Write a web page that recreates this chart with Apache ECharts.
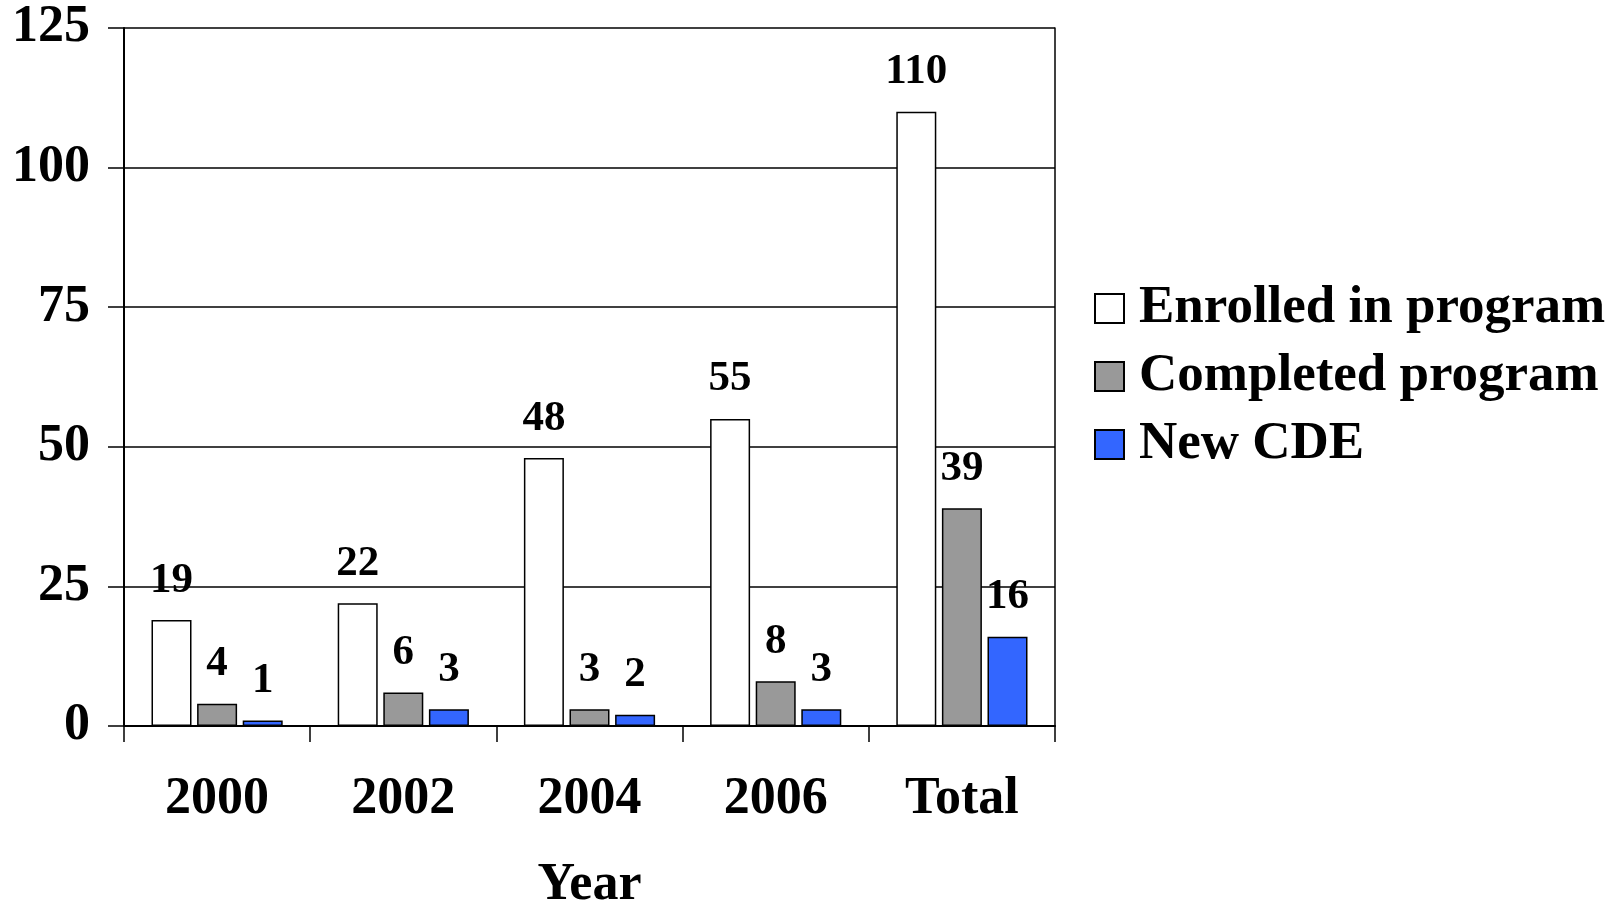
<!DOCTYPE html>
<html>
<head>
<meta charset="utf-8">
<script src="https://cdn.jsdelivr.net/npm/echarts@6/dist/echarts.min.js"></script>
<style>html,body{margin:0;padding:0;background:#fff}#c{width:1621px;height:917px}</style>
</head>
<body>
<div id="c"></div>
<script>
var categories = ['2000', '2002', '2004', '2006', 'Total'];
var enrolled = [19, 22, 48, 55, 110];
var completed = [4, 6, 3, 8, 39];
var newCDE = [1, 3, 2, 3, 16];
var seriesNames = ['Enrolled in program', 'Completed program', 'New CDE'];
var yTicks = [0, 25, 50, 75, 100, 125];

var FONT = '"Liberation Serif", "Times New Roman", serif';
var chart = echarts.init(document.getElementById('c'));

function bar(name, data, color) {
  return {
    name: name, type: 'bar', data: data,
    barWidth: 40, barGap: '14%',
    itemStyle: { color: color, borderColor: '#000', borderWidth: 1.5 },
    label: { show: true, position: 'top', distance: 18, color: '#000',
      fontFamily: FONT, fontWeight: 'bold', fontSize: 43 }
  };
}

chart.setOption({
  animation: false,
  grid: { left: 124, right: 566, top: 28, bottom: 181 },
  legend: {
    orient: 'vertical', left: 1089, top: 277,
    itemWidth: 29, itemHeight: 29, itemGap: 15,
    icon: 'rect',
    textStyle: { fontFamily: FONT, fontWeight: 'bold', fontSize: 53, color: '#000', padding: [0, 0, 0, 10] },
    data: seriesNames
  },
  xAxis: {
    type: 'category', data: categories,
    name: 'Year', nameLocation: 'middle', nameGap: 134,
    nameTextStyle: { fontFamily: FONT, fontWeight: 'bold', fontSize: 52, color: '#000' },
    axisLine: { lineStyle: { color: '#000', width: 2 } },
    axisTick: { show: true, length: 16, inside: false, lineStyle: { color: '#000', width: 1.5 } },
    axisLabel: { margin: 48, fontFamily: FONT, fontWeight: 'bold', fontSize: 52, color: '#000' }
  },
  yAxis: [{
    type: 'value', min: yTicks[0], max: yTicks[yTicks.length - 1], interval: 25,
    axisLine: { show: true, lineStyle: { color: '#000', width: 2 } },
    axisTick: { show: true, length: 16, lineStyle: { color: '#000', width: 1.5 } },
    splitLine: { show: true, lineStyle: { color: '#000', width: 1.5 } },
    axisLabel: { margin: 34, fontFamily: FONT, fontWeight: 'bold', fontSize: 52, color: '#000' }
  }, {
    type: 'value', position: 'right', min: 0, max: 125, interval: 25,
    axisLine: { show: true, lineStyle: { color: '#000', width: 1.5 } },
    axisTick: { show: false }, axisLabel: { show: false }, splitLine: { show: false }
  }],
  series: [
    bar(seriesNames[0], enrolled, '#ffffff'),
    bar(seriesNames[1], completed, '#999999'),
    bar(seriesNames[2], newCDE, '#3366ff')
  ]
});
</script>
</body>
</html>
